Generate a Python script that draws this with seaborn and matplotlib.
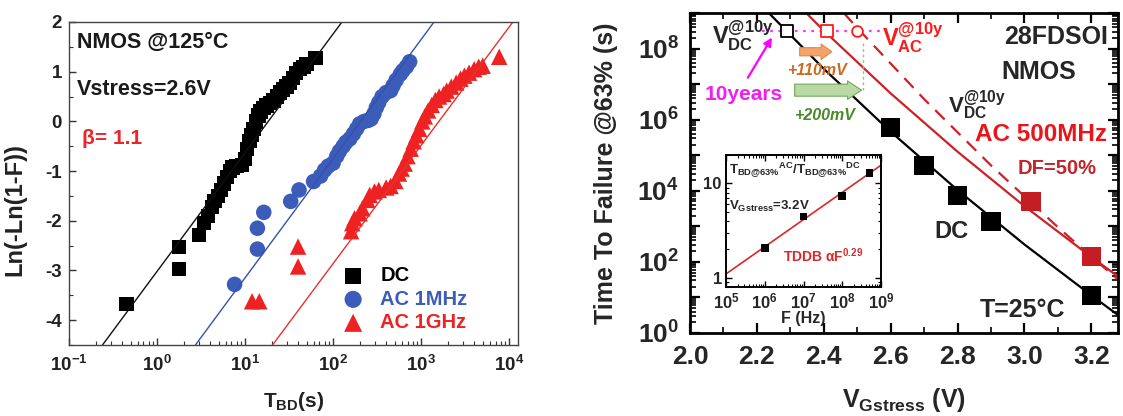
import matplotlib
matplotlib.use("Agg")
import matplotlib.pyplot as plt
import seaborn as sns
import pandas as pd
from matplotlib.ticker import FixedLocator, LogLocator, MultipleLocator, NullFormatter, FixedFormatter

# ---------------- Left panel: Weibull plot data ----------------
dc_t = [0.45, 1.78, 1.78, 3.0, 3.4, 3.8, 4.2, 4.5, 4.9, 5.3, 5.8, 6.2, 6.7, 7.2, 8.0, 9.2,
        10.0, 10.6, 11.2, 11.8, 12.5, 13.3, 14.2, 15.0, 16.2, 17.5, 19.0, 21.0, 23.0, 25.0,
        27.0, 29.5, 32.0, 35.0, 38.0, 42.0, 46.0, 50.0, 63.0]
dc_y = [-3.67, -2.97, -2.53, -2.28, -2.05, -1.90, -1.72, -1.60, -1.50, -1.38, -1.25, -1.12,
        -1.00, -0.93, -0.90, -0.88, -0.75, -0.55, -0.40, -0.28, -0.15, 0.00, 0.12, 0.20, 0.27,
        0.32, 0.37, 0.42, 0.50, 0.58, 0.64, 0.70, 0.78, 0.88, 0.98, 1.05, 1.10, 1.15, 1.28]

ac1m_t = [7.6, 13.8, 13.8, 16.3, 33, 41, 60, 72, 80, 88, 100, 110, 118, 130, 140, 155, 170,
          185, 200, 225, 250, 270, 290, 310, 330, 360, 400, 450, 480, 520, 580, 620, 680, 740]
ac1m_y = [-3.28, -2.57, -2.15, -1.83, -1.61, -1.38, -1.21, -1.10, -0.98, -0.90, -0.84, -0.70,
          -0.60, -0.50, -0.42, -0.35, -0.25, -0.15, -0.05, 0.00, 0.02, 0.05, 0.15, 0.28, 0.38,
          0.50, 0.58, 0.62, 0.72, 0.83, 0.95, 1.02, 1.10, 1.20]

ac1g_t = [12.0, 14.5, 40, 40, 160, 165, 175, 200, 215, 245, 260, 295, 330, 400, 450, 510, 560,
          600, 650, 700, 760, 820, 880, 950, 1030, 1100, 1200, 1320, 1450, 1600, 1800, 1950,
          2200, 2500, 2800, 3100, 3500, 4000, 4500, 5000, 7700]
ac1g_y = [-3.62, -3.62, -2.92, -2.52, -2.21, -2.05, -1.95, -1.85, -1.75, -1.58, -1.48, -1.41,
          -1.38, -1.33, -1.30, -1.20, -1.05, -0.95, -0.85, -0.70, -0.55, -0.40, -0.28, -0.15,
          0.00, 0.10, 0.22, 0.33, 0.43, 0.50, 0.55, 0.62, 0.70, 0.78, 0.86, 0.92, 0.98, 1.05,
          1.10, 1.12, 1.30]

fit_dc_t = [0.24, 126]
fit_1m_t = [2.73, 1400]
fit_1g_t = [20.5, 11000]
fit_y = [-4.5, 2.0]

left_xticks = [0.1, 1, 10, 100, 1000, 10000]
left_xticklabels = ['10$^{-1}$', '10$^{0}$', '10$^{1}$', '10$^{2}$', '10$^{3}$', '10$^{4}$']
left_yticks = [-4, -3, -2, -1, 0, 1, 2]
left_yticklabels = ['-4', '-3', '-2', '-1', '0', '1', '2']
legend_labels = ['DC', 'AC 1MHz', 'AC 1GHz']

# ---------------- Right panel: TTF vs V data ----------------
dc_v = [2.6, 2.7, 2.8, 2.9, 3.2]
dc_ttf = [5.9e5, 5.2e4, 7.4e3, 1.36e3, 11.5]
ac_v = [3.02, 3.2]
ac_ttf = [5.0e3, 1.4e2]

dc_line_v = [2.24, 2.4, 2.6, 2.8, 3.0, 3.2, 3.28]
dc_line_ttf = [9.1e8, 2.7e7, 4.6e5, 1.05e4, 310, 11.5, 3.2]
ac_line_v = [2.35, 2.4, 2.6, 2.8, 3.0, 3.2, 3.28]
ac_line_ttf = [9.5e8, 3.2e8, 5.5e6, 1.26e5, 3.7e3, 138, 39]
acd_line_v = [2.46, 2.5, 2.7, 2.9, 3.1, 3.2, 3.28]
acd_line_ttf = [1.0e9, 3.8e8, 3.8e6, 5.2e4, 950, 141, 32]

ten_years = 3.15e8
v10y_dc = 2.29
v10y_ac = 2.41
v10y_acd = 2.50

right_xticks = [2.0, 2.2, 2.4, 2.6, 2.8, 3.0, 3.2]
right_xticklabels = ['2.0', '2.2', '2.4', '2.6', '2.8', '3.0', '3.2']
right_yticks = [1e0, 1e1, 1e2, 1e3, 1e4, 1e5, 1e6, 1e7, 1e8, 1e9]
right_yticklabels = ['10$^{0}$', '', '10$^{2}$', '', '10$^{4}$', '', '10$^{6}$', '', '10$^{8}$', '']

# ---------------- Inset data ----------------
inset_f = [1e6, 1e7, 1e8, 5e8]
inset_ratio = [2.07, 4.46, 7.36, 12.9]
inset_fit_f = [1e5, 1e9]
inset_fit_ratio = [1.1, 15.6]
inset_xticks = [1e5, 1e6, 1e7, 1e8, 1e9]
inset_xticklabels = ['10$^{5}$', '10$^{6}$', '10$^{7}$', '10$^{8}$', '10$^{9}$']
inset_yticks = [1, 10]
inset_yticklabels = ['1', '10']

# ---------------- Style ----------------
sns.set_theme(style='ticks')
plt.rcParams['font.family'] = ['Liberation Sans', 'DejaVu Sans']
plt.rcParams['font.weight'] = 'bold'
plt.rcParams['axes.labelweight'] = 'bold'
plt.rcParams['mathtext.fontset'] = 'custom'
plt.rcParams['mathtext.rm'] = 'Liberation Sans:bold'
plt.rcParams['mathtext.bf'] = 'Liberation Sans:bold'
plt.rcParams['mathtext.it'] = 'Liberation Sans:italic:bold'
plt.rcParams['mathtext.default'] = 'bf'

fig = plt.figure(figsize=(11.23, 4.16), dpi=100)

# ================= LEFT PANEL =================
ax1 = fig.add_axes([69/1123, 1-345/416, 449/1123, 323/416])
c_dc, c_1m, c_1g = '#000000', '#3b5cb8', '#ee2222'

sns.lineplot(x=fit_dc_t, y=fit_y, ax=ax1, color='#111111', lw=1.0, legend=False)
sns.lineplot(x=fit_1m_t, y=fit_y, ax=ax1, color='#3550b0', lw=1.0, legend=False)
sns.lineplot(x=fit_1g_t, y=fit_y, ax=ax1, color='#e83030', lw=1.0, legend=False)

sns.scatterplot(x=dc_t, y=dc_y, ax=ax1, marker='s', s=105, color=c_dc, edgecolor='none',
                label=legend_labels[0])
sns.scatterplot(x=ac1m_t, y=ac1m_y, ax=ax1, marker='o', s=125, color=c_1m, edgecolor='none',
                label=legend_labels[1])
sns.scatterplot(x=ac1g_t, y=ac1g_y, ax=ax1, marker='^', s=140, color=c_1g, edgecolor='none',
                label=legend_labels[2])

ax1.set_xscale('log')
ax1.set_xlim(0.1, 10**4.1)
ax1.set_ylim(-4.5, 2.0)
ax1.xaxis.set_major_locator(FixedLocator(left_xticks))
ax1.xaxis.set_major_formatter(FixedFormatter(left_xticklabels))
ax1.xaxis.set_minor_locator(LogLocator(base=10, subs=[2, 3, 4, 5, 6, 7, 8, 9], numticks=20))
ax1.xaxis.set_minor_formatter(NullFormatter())
ax1.yaxis.set_major_locator(FixedLocator(left_yticks))
ax1.yaxis.set_major_formatter(FixedFormatter(left_yticklabels))
ax1.yaxis.set_minor_locator(MultipleLocator(0.5))
ax1.tick_params(which='both', direction='in', top=False, right=False, color='#333333')
ax1.tick_params(which='major', length=5, width=1.0, labelsize=13.5, labelcolor='#222222')
ax1.tick_params(axis='x', which='major', pad=7)
ax1.tick_params(axis='y', which='major', pad=5)
ax1.tick_params(which='minor', length=3, width=0.8)
for sp in ax1.spines.values():
    sp.set_color('#444444')
    sp.set_linewidth(1.0)
    sp.set_visible(True)

ax1.set_ylabel('Ln(-Ln(1-F))', fontsize=17, color='#222222')
ax1.yaxis.set_label_coords(-0.095, 0.42)
ax1.set_xlabel('T$_{BD}$(s)', fontsize=15, color='#222222')
ax1.xaxis.set_label_coords(0.5, -0.14)

leg = ax1.legend(loc='lower left', bbox_to_anchor=(0.57, 0.015), frameon=False, fontsize=14.5,
                 handletextpad=0.35, labelspacing=0.22, borderaxespad=0, markerscale=1.1,
                 labelcolor=[c_dc, c_1m, c_1g])

ax1.text(0.018, 0.938, 'NMOS @125°C', transform=ax1.transAxes, fontsize=15.5,
         color='#1a1a1a', va='center', ha='left')
ax1.text(0.018, 0.79, 'Vstress=2.6V', transform=ax1.transAxes, fontsize=15.5,
         color='#1a1a1a', va='center', ha='left')
ax1.text(0.030, 0.64, 'β= 1.1', transform=ax1.transAxes, fontsize=15,
         color='#e8262b', va='center', ha='left')

# ================= RIGHT PANEL =================
ax2 = fig.add_axes([690/1123, 1-333/416, 428/1123, 320/416])
red_line = '#cf2026'

sns.lineplot(x=dc_line_v, y=dc_line_ttf, ax=ax2, color='black', lw=1.6, legend=False)
sns.lineplot(x=ac_line_v, y=ac_line_ttf, ax=ax2, color=red_line, lw=1.6, legend=False)
sns.lineplot(x=acd_line_v, y=acd_line_ttf, ax=ax2, color=red_line, lw=1.6, legend=False)
ax2.lines[-1].set_dashes([6, 4])

sns.scatterplot(x=dc_v, y=dc_ttf, ax=ax2, marker='s', s=190, color='black', edgecolor='none',
                zorder=5)
sns.scatterplot(x=ac_v, y=ac_ttf, ax=ax2, marker='s', s=190, color='#c41e24', edgecolor='none',
                zorder=5)

# 10-year line and crossing markers
ax2.plot([2.215, 2.58], [ten_years, ten_years], color='#ff33ff', ls=(0, (1.2, 2.5)), lw=1.6,
         zorder=3)
sns.scatterplot(x=[v10y_dc], y=[ten_years], ax=ax2, marker='s', s=70, facecolor='white',
                edgecolor='black', linewidth=1.3, zorder=6)
sns.scatterplot(x=[v10y_ac], y=[ten_years], ax=ax2, marker='s', s=70, facecolor='white',
                edgecolor='#ff1a1a', linewidth=1.3, zorder=6)
sns.scatterplot(x=[v10y_acd], y=[ten_years], ax=ax2, marker='o', s=60, facecolor='white',
                edgecolor='#ff1a1a', linewidth=1.3, zorder=6)

ax2.plot([2.516, 2.516], [10**8.17, 10**6.83], color='#90c878', ls=(0, (2, 2)), lw=1.0)

ax2.set_yscale('log')
ax2.set_xlim(2.0, 3.28)
ax2.set_ylim(1e0, 1e9)
ax2.xaxis.set_major_locator(FixedLocator(right_xticks))
ax2.xaxis.set_major_formatter(FixedFormatter(right_xticklabels))
ax2.xaxis.set_minor_locator(MultipleLocator(0.1))
ax2.yaxis.set_major_locator(FixedLocator(right_yticks))
ax2.yaxis.set_major_formatter(FixedFormatter(right_yticklabels))
ax2.yaxis.set_minor_locator(LogLocator(base=10, subs=[2, 3, 4, 5, 6, 7, 8, 9], numticks=20))
ax2.yaxis.set_minor_formatter(NullFormatter())
ax2.tick_params(which='both', direction='in', top=True, right=True, color='black')
ax2.tick_params(which='major', length=7, width=1.6, labelsize=19)
ax2.tick_params(axis='x', which='major', pad=9)
ax2.tick_params(axis='y', which='major', pad=8)
ax2.tick_params(which='minor', length=4, width=1.2)
for sp in ax2.spines.values():
    sp.set_color('black')
    sp.set_linewidth(2.0)
    sp.set_visible(True)

ax2.set_ylabel('Time To Failure @63% (s)', fontsize=18)
ax2.yaxis.set_label_coords(-0.168, 0.5)
ax2.set_xlabel('V$_{Gstress}$ (V)', fontsize=18)
ax2.xaxis.set_label_coords(0.5, -0.165)

# texts
ax2.text(2.158, 10**8.37, r'V$_{DC}^{@10y}$', fontsize=17, ha='center', va='center')
ax2.text(2.666, 10**8.31, r'V$_{AC}^{@10y}$', fontsize=17, ha='center', va='center',
         color='#ff1a1a')
ax2.text(3.096, 10**8.32, '28FDSOI', fontsize=18, ha='center', va='center')
ax2.text(3.042, 10**7.35, 'NMOS', fontsize=18, ha='center', va='center')
ax2.text(2.857, 10**6.39, r'V$_{DC}^{@10y}$', fontsize=16, ha='center', va='center')
ax2.text(3.051, 10**5.58, 'AC 500MHz', fontsize=17.5, ha='center', va='center',
         color='#e8161b')
ax2.text(3.099, 10**4.62, 'DF=50%', fontsize=14.5, ha='center', va='center',
         color='#c0262c')
ax2.text(2.782, 10**2.85, 'DC', fontsize=17, ha='center', va='center')
ax2.text(2.994, 10**0.65, 'T=25°C', fontsize=18, ha='center', va='center')
ax2.text(2.161, 10**6.70, '10years', fontsize=15, ha='center', va='center',
         color='#f01ff0')
ax2.text(2.379, 10**7.37, '+110mV', fontsize=11.5, ha='center', va='center',
         color='#cc6a24', style='italic')
ax2.text(2.403, 10**6.11, '+200mV', fontsize=11.5, ha='center', va='center',
         color='#4a8a2a', style='italic')

# arrows
ax2.annotate('', xy=(2.424, 10**7.91), xytext=(2.328, 10**7.91),
             arrowprops=dict(arrowstyle='simple,head_length=0.55,head_width=0.8,tail_width=0.42',
                             fc='#f4a46a', ec='#e0884a', lw=0.8, mutation_scale=14,
                             shrinkA=0, shrinkB=0))
ax2.annotate('', xy=(2.513, 10**6.83), xytext=(2.313, 10**6.83),
             arrowprops=dict(arrowstyle='simple,head_length=0.72,head_width=0.95,tail_width=0.62',
                             fc='#b8d8a4', ec='#74a85a', lw=0.8, mutation_scale=14,
                             shrinkA=0, shrinkB=0))
ax2.annotate('', xy=(2.245, 10**8.31), xytext=(2.173, 10**7.18),
             arrowprops=dict(arrowstyle='-|>', color='#ff00ff', lw=1.6, mutation_scale=12,
                             shrinkA=0, shrinkB=0))

# ================= INSET =================
ax3 = fig.add_axes([726/1123, 1-287/416, 155/1123, 132/416])
ax3.set_facecolor('white')
sns.lineplot(x=inset_fit_f, y=inset_fit_ratio, ax=ax3, color='#d8282a', lw=1.2, legend=False)
sns.scatterplot(x=inset_f, y=inset_ratio, ax=ax3, marker='s', s=30, color='black',
                edgecolor='none', zorder=5)
ax3.set_xscale('log')
ax3.set_yscale('log')
ax3.set_xlim(1e5, 1e9)
ax3.set_ylim(0.8, 20)
ax3.xaxis.set_major_locator(FixedLocator(inset_xticks))
ax3.xaxis.set_major_formatter(FixedFormatter(inset_xticklabels))
ax3.xaxis.set_minor_locator(LogLocator(base=10, subs=[2, 3, 4, 5, 6, 7, 8, 9], numticks=20))
ax3.xaxis.set_minor_formatter(NullFormatter())
ax3.yaxis.set_major_locator(FixedLocator(inset_yticks))
ax3.yaxis.set_major_formatter(FixedFormatter(inset_yticklabels))
ax3.yaxis.set_minor_locator(LogLocator(base=10, subs=[2, 3, 4, 5, 6, 7, 8, 9], numticks=20))
ax3.yaxis.set_minor_formatter(NullFormatter())
ax3.tick_params(which='both', direction='in', top=True, right=True, color='black')
ax3.tick_params(which='major', length=4, width=1.0, labelsize=12, pad=3)
ax3.tick_params(which='minor', length=2, width=0.8)
for sp in ax3.spines.values():
    sp.set_color('black')
    sp.set_linewidth(1.4)
    sp.set_visible(True)
ax3.set_xlabel('F (Hz)', fontsize=11.5, labelpad=0)
ax3.text(0.02, 0.88, r'T$_{BD@63\%}{}^{AC}$/T$_{BD@63\%}{}^{DC}$', transform=ax3.transAxes,
         fontsize=9.5, ha='left', va='center')
ax3.text(0.02, 0.61, r'V$_{Gstress}$=3.2V', transform=ax3.transAxes,
         fontsize=9.5, ha='left', va='center')
ax3.text(0.37, 0.24, r'TDDB αF$^{0.29}$', transform=ax3.transAxes,
         fontsize=10, ha='left', va='center', color='#d8282a')

fig.savefig('out.png', dpi=100)
